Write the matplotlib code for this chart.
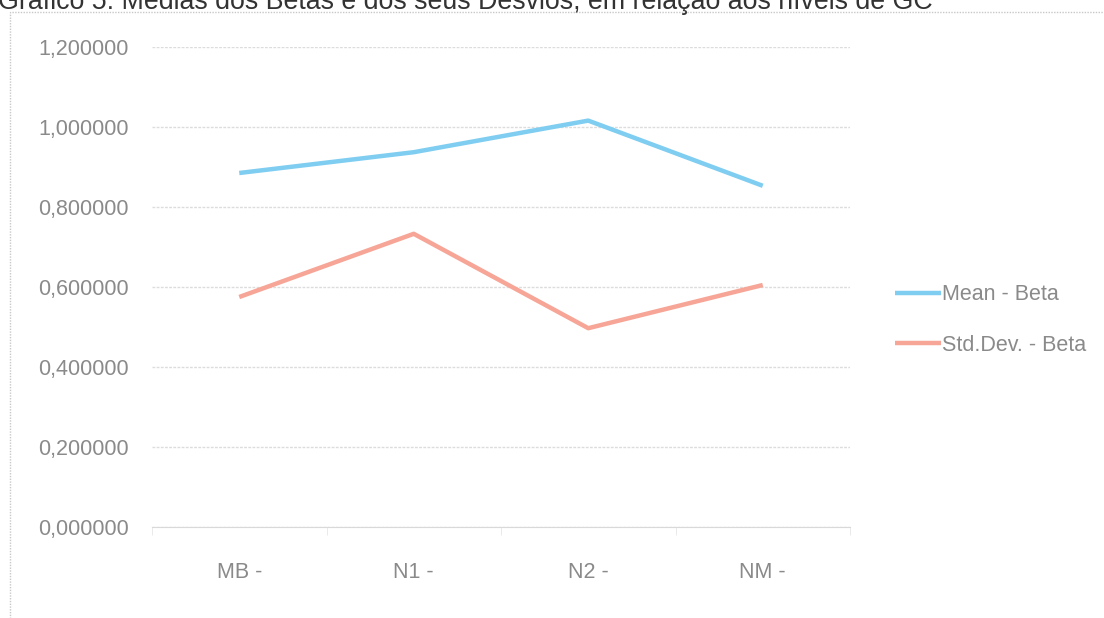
import matplotlib
matplotlib.use("Agg")
import matplotlib.pyplot as plt
from matplotlib.patches import Rectangle
import numpy as np

TITULO = "Gráfico 5: Médias dos Betas e dos seus Desvios, em relação aos níveis de GC"
NIVEIS = ["MB -", "N1 -", "N2 -", "NM -"]
MEDIA_BETA = [0.885, 0.937, 1.016, 0.853]
DESVIO_BETA = [0.575, 0.733, 0.497, 0.605]
Y_TICKS = [0.0, 0.2, 0.4, 0.6, 0.8, 1.0, 1.2]

KLEUR_MEDIA = "#7fcdf0"
KLEUR_DESVIO = "#f6a596"
GRIJS = "#8a8a8a"
FONTE = ["Liberation Sans", "DejaVu Sans"]

W, H = 1104, 618
fig = plt.figure(figsize=(W / 100, H / 100), dpi=100)
fig.patch.set_facecolor("white")

# moldura do grafico (cortada a direita e em baixo)
fig.add_artist(Rectangle((10 / W, -0.05), 1.2, 1 - 12 / H + 0.05, transform=fig.transFigure,
                         fill=False, edgecolor="#c8c8c8", linewidth=1.0, linestyle=(0, (1, 1))))

# titulo, parcialmente cortado no topo como no original
fig.text(-0.002, 1 - 9 / H, TITULO, family=FONTE, fontsize=19.3,
         color="#333333", ha="left", va="baseline")

ax = fig.add_axes([152 / W, 1 - 527 / H, (850 - 152) / W, 480 / H])
x = np.arange(len(NIVEIS))
l1, = ax.plot(x, MEDIA_BETA, color=KLEUR_MEDIA, linewidth=3.2, solid_capstyle="butt",
              label="Mean - Beta")
l2, = ax.plot(x, DESVIO_BETA, color=KLEUR_DESVIO, linewidth=3.2, solid_capstyle="butt",
              label="Std.Dev. - Beta")

ax.set_xlim(-0.5, len(NIVEIS) - 0.5)
ax.set_ylim(0, 1.2)
ax.set_yticks(Y_TICKS)
ax.set_yticklabels([f"{v:.6f}".replace(".", ",") for v in Y_TICKS])
ax.set_xticks(x)
ax.set_xticklabels(NIVEIS)
ax.set_xticks(np.arange(len(NIVEIS) + 1) - 0.5, minor=True)

for s in ["top", "right", "left"]:
    ax.spines[s].set_visible(False)
ax.spines["bottom"].set_color("#d9d9d9")
ax.grid(axis="y", color="#dcdcdc", linewidth=1.0, linestyle=(0, (2, 1)))
ax.set_axisbelow(True)

ax.tick_params(axis="y", length=0, pad=17, labelsize=15.5, labelcolor=GRIJS)
ax.tick_params(axis="x", which="major", length=0, pad=25, labelsize=15.5, labelcolor=GRIJS)
ax.tick_params(axis="x", which="minor", length=6, color="#e6e6e6", direction="out")
for lab in ax.get_xticklabels() + ax.get_yticklabels():
    lab.set_family(FONTE)

leg = fig.legend(handles=[l1, l2], loc="center left",
                 bbox_to_anchor=(886 / W, 1 - 320 / H), frameon=False,
                 prop={"family": FONTE, "size": 15.5}, handlelength=2.15,
                 handletextpad=0.05, labelspacing=1.35, borderaxespad=0)
for t in leg.get_texts():
    t.set_color(GRIJS)

fig.savefig("out.png", dpi=100)
